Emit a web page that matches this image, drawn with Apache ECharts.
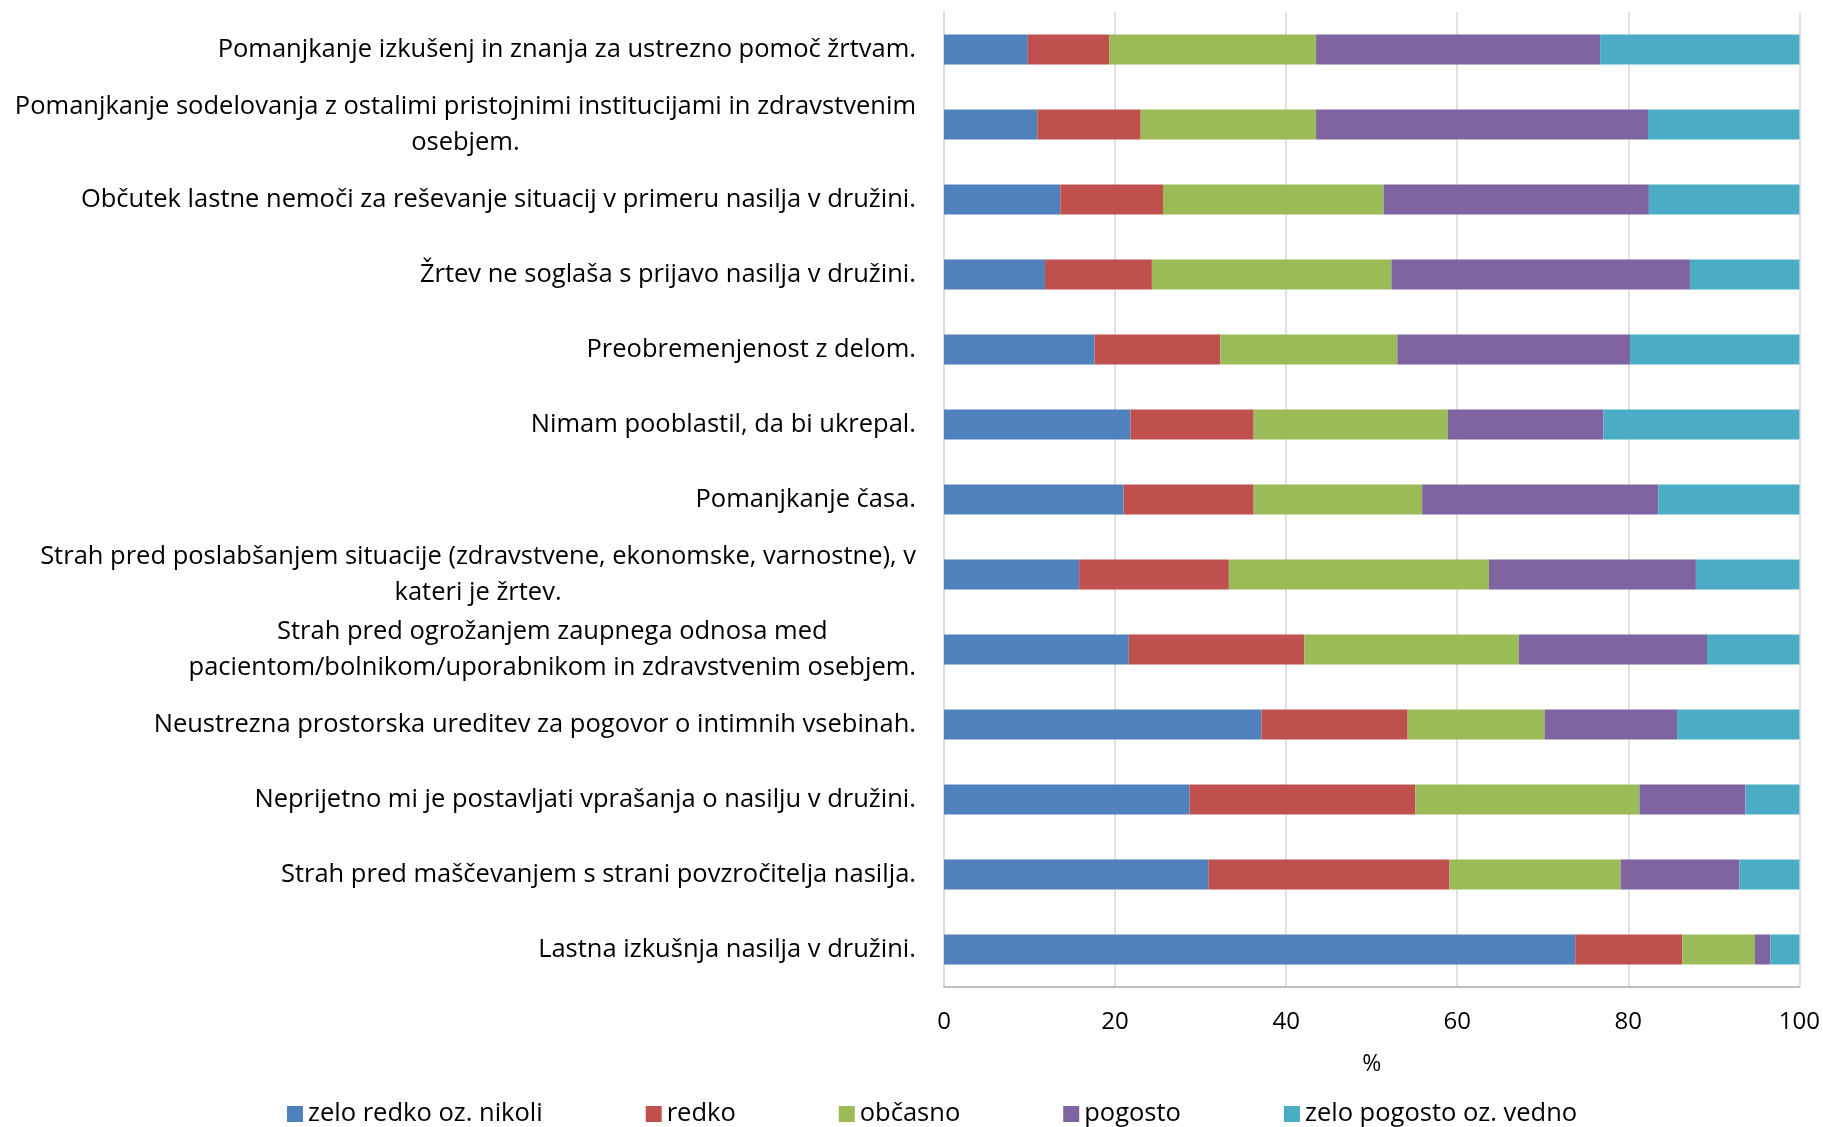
<!DOCTYPE html>
<html>
<head>
<meta charset="utf-8">
<script src="https://cdn.jsdelivr.net/npm/echarts@6/dist/echarts.min.js"></script>
<style>
  html, body { margin: 0; padding: 0; background: #ffffff; }
  #chart { width: 1823px; height: 1127px; }
</style>
</head>
<body>
<div id="chart"></div>
<script>
const categories = [
  "Pomanjkanje izkušenj in znanja za ustrezno pomoč žrtvam.",
  "Pomanjkanje sodelovanja z ostalimi pristojnimi institucijami in zdravstvenim\nosebjem.",
  "Občutek lastne nemoči za reševanje situacij v primeru nasilja v družini.",
  "Žrtev ne soglaša s prijavo nasilja v družini.",
  "Preobremenjenost z delom.",
  "Nimam pooblastil, da bi ukrepal.",
  "Pomanjkanje časa.",
  "Strah pred poslabšanjem situacije (zdravstvene, ekonomske, varnostne), v\nkateri je žrtev.",
  "Strah pred ogrožanjem zaupnega odnosa med\npacientom/bolnikom/uporabnikom in zdravstvenim osebjem.",
  "Neustrezna prostorska ureditev za pogovor o intimnih vsebinah.",
  "Neprijetno mi je postavljati vprašanja o nasilju v družini.",
  "Strah pred maščevanjem s strani povzročitelja nasilja.",
  "Lastna izkušnja nasilja v družini."
];
const seriesNames = ["zelo redko oz. nikoli", "redko", "občasno", "pogosto", "zelo pogosto oz. vedno"];
const zeloRedko   = [9.8, 10.9, 13.6, 11.8, 17.6, 21.8, 21.0, 15.8, 21.6, 37.1, 28.7, 30.9, 73.8];
const redko       = [9.5, 12.1, 12.0, 12.5, 14.7, 14.4, 15.2, 17.5, 20.5, 17.1, 26.4, 28.2, 12.5];
const obcasno     = [24.2, 20.5, 25.8, 28.0, 20.7, 22.7, 19.7, 30.4, 25.1, 16.0, 26.2, 20.0, 8.5];
const pogosto     = [33.2, 38.8, 31.0, 34.9, 27.2, 18.2, 27.6, 24.2, 22.0, 15.5, 12.4, 13.9, 1.8];
const zeloPogosto = [23.3, 17.7, 17.6, 12.8, 19.8, 22.9, 16.5, 12.1, 10.8, 14.3, 6.3, 7.0, 3.4];
const xTicks = [0, 20, 40, 60, 80, 100];
const colors = ["#4F81BD", "#C0504D", "#9BBB59", "#8064A2", "#4BACC6"];

const values = [zeloRedko, redko, obcasno, pogosto, zeloPogosto];
const FONT = "Open Sans";

const chart = echarts.init(document.getElementById('chart'), null, { renderer: 'canvas' });
chart.setOption({
  backgroundColor: '#ffffff',
  animation: false,
  color: colors,
  grid: { left: 944, right: 23, top: 12, bottom: 140, containLabel: false },
  legend: {
    data: seriesNames,
    top: 1096,
    left: 282,
    itemWidth: 16,
    itemHeight: 16,
    itemGap: 103,
    icon: 'rect',
    textStyle: { fontFamily: FONT, fontSize: 25.5, color: '#000000', padding: [0, 0, 0, 0] }
  },
  xAxis: {
    type: 'value',
    min: xTicks[0],
    max: xTicks[xTicks.length - 1],
    interval: 20,
    name: '%',
    nameLocation: 'middle',
    nameGap: 66,
    nameTextStyle: { fontFamily: FONT, fontSize: 23, color: '#000000' },
    axisLine: { show: true, lineStyle: { color: '#bfbfbf', width: 2 } },
    axisTick: { show: false },
    axisLabel: { fontFamily: FONT, fontSize: 24, color: '#000000', margin: 23 },
    splitLine: { show: true, lineStyle: { color: '#d9d9d9', width: 1.5 } }
  },
  yAxis: {
    type: 'category',
    data: categories,
    inverse: true,
    axisLine: { show: true, lineStyle: { color: '#d9d9d9', width: 1.5 } },
    axisTick: { show: false },
    axisLabel: {
      margin: 28,
      color: '#000000',
      fontFamily: FONT,
      fontSize: 25.5,
      lineHeight: 36,
      formatter: function (v) {
        return v.split('\n').map(function (l) { return '{c|' + l + '}'; }).join('\n');
      },
      rich: {
        c: { align: 'center', fontFamily: FONT, fontSize: 25.5, lineHeight: 36, color: '#000000' }
      }
    }
  },
  series: values.map(function (arr, i) {
    return {
      name: seriesNames[i],
      type: 'bar',
      stack: 'total',
      barWidth: 30,
      data: arr,
      itemStyle: { color: colors[i] }
    };
  })
});
</script>
</body>
</html>
